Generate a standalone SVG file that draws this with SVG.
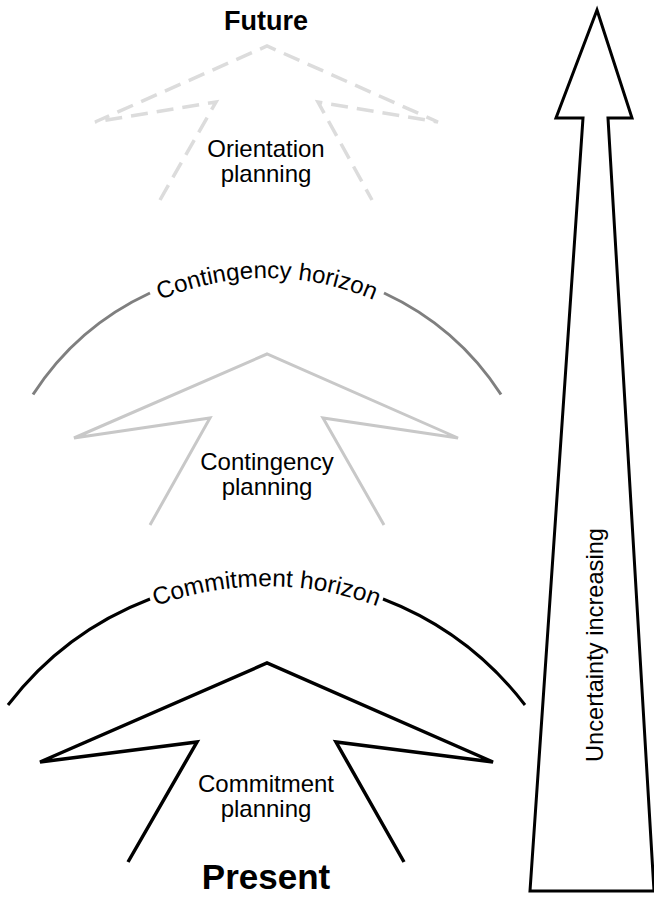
<svg xmlns="http://www.w3.org/2000/svg" xmlns:xlink="http://www.w3.org/1999/xlink" width="654" height="897" viewBox="0 0 654 897">
  <style>
    text { font-family: "Liberation Sans", Arial, sans-serif; fill: #000; }
    .label { font-size: 24px; text-anchor: middle; }
    .title { font-weight: bold; text-anchor: middle; }
    .arrow { fill: none; stroke-linejoin: miter; stroke-linecap: butt; }
    .horizon { fill: none; stroke-linecap: butt; }
  </style>
  <defs>
    <!-- baseline circles for the curved horizon captions -->
    <path id="contingency-text-path" d="M 67,367.6 A 268 268 0 0 1 467,367.6"/>
    <path id="commitment-text-path" d="M 66.5,657.3 A 317 317 0 0 1 466.5,657.3"/>
  </defs>

  <rect x="0" y="0" width="654" height="897" fill="#fff"/>

  <g id="future">
    <text class="title" x="266" y="30" font-size="27">Future</text>
  </g>

  <g id="orientation-planning">
    <polyline class="arrow" points="160,200 216,102 95,122 267,46 438,122 318,102 372,200"
              stroke="#dcdcdc" stroke-width="3.5" stroke-dasharray="17 9"/>
    <text class="label" x="266" y="157">Orientation</text>
    <text class="label" x="266" y="182">planning</text>
  </g>

  <g id="contingency-horizon">
    <path class="horizon" d="M 33,394.5 A 278.7 278.7 0 0 1 150,293" stroke="#7f7f7f" stroke-width="3"/>
    <path class="horizon" d="M 384,293 A 278.7 278.7 0 0 1 501,394.5" stroke="#7f7f7f" stroke-width="3"/>
    <text font-size="24"><textPath xlink:href="#contingency-text-path" startOffset="50%" text-anchor="middle">Contingency horizon</textPath></text>
  </g>

  <g id="contingency-planning">
    <polyline class="arrow" points="150,525 210,418 74,438 267,354 458,438 323,418 384,525"
              stroke="#c8c8c8" stroke-width="3"/>
    <text class="label" x="267" y="470">Contingency</text>
    <text class="label" x="267" y="495">planning</text>
  </g>

  <g id="commitment-horizon">
    <path class="horizon" d="M 8,705 A 325.7 325.7 0 0 1 150,599" stroke="#000" stroke-width="3"/>
    <path class="horizon" d="M 383,599 A 325.7 325.7 0 0 1 525,705" stroke="#000" stroke-width="3"/>
    <text font-size="24.5"><textPath xlink:href="#commitment-text-path" startOffset="50%" text-anchor="middle">Commitment horizon</textPath></text>
  </g>

  <g id="commitment-planning">
    <polyline class="arrow" points="128,862 197,742 40,762 267,663 493,762 336,742 404,862"
              stroke="#000" stroke-width="3.5"/>
    <text class="label" x="266" y="792">Commitment</text>
    <text class="label" x="266" y="817">planning</text>
  </g>

  <g id="present">
    <text class="title" x="266" y="889" font-size="35">Present</text>
  </g>

  <g id="uncertainty-arrow">
    <polygon points="597,10 632,118 608,118 654,891 530,891 583,118 556,118"
             fill="#fff" stroke="#000" stroke-width="3" stroke-linejoin="miter"/>
    <text class="label" transform="translate(603,645) rotate(-90)" x="0" y="0" textLength="234" lengthAdjust="spacingAndGlyphs">Uncertainty increasing</text>
  </g>
</svg>
